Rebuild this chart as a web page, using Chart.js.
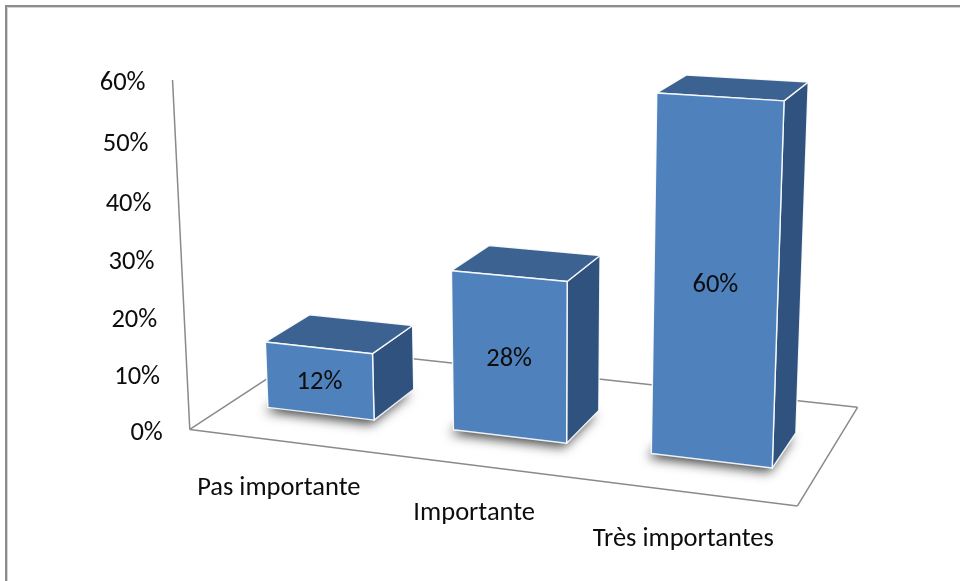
<!DOCTYPE html>
<html>
<head>
<meta charset="utf-8">
<title>Importance</title>
<script src="https://cdn.jsdelivr.net/npm/chart.js@4.4.1/dist/chart.umd.min.js"></script>
<style>
  html, body { margin: 0; padding: 0; background: #ffffff; }
  #wrap { width: 960px; height: 581px; }
</style>
</head>
<body>
<div id="wrap"><canvas id="chart" width="960" height="581"></canvas></div>
<script>
// ---- data ----
const categories = ['Pas importante', 'Importante', 'Très importantes'];
const values = [0.12, 0.28, 0.60];
const tickValues = [0, 0.1, 0.2, 0.3, 0.4, 0.5, 0.6];
const tickLabels = ['0%', '10%', '20%', '30%', '40%', '50%', '60%'];

// ---- 3-D view ----
// Perspective camera: world (X along categories 0..n, Y normalised height 0..1,
// Z depth 0..1 of the floor) -> screen pixels.
const camera = [176.8833, -25.28330, 165.1304, 189.7953,
                9.209326, -353.1774, -36.47265, 429.4192,
                -0.03218503, -0.04653656, 0.1292310];
const barHalfWidth = 0.29;   // in category units
const barFront = 0.30;       // depth range of the columns on the floor
const barBack = 0.66;

const FONT = '26.5px Carlito, Calibri, Lato, "Liberation Sans", sans-serif';
const TEXT_COLOR = '#0d0d0d';
const LINE_COLOR = '#8a8a8a';
const FACE_FRONT = '#4f81bd';
const FACE_TOP = '#3c6291';
const FACE_SIDE = '#30527e';
const EDGE = 'rgba(255,255,255,0.9)';

function project(X, Y, Z) {
  const p = camera;
  const w = p[8] * X + p[9] * Y + p[10] * Z + 1;
  return [(p[0] * X + p[1] * Y + p[2] * Z + p[3]) / w,
          (p[4] * X + p[5] * Y + p[6] * Z + p[7]) / w];
}

function poly(ctx, pts) {
  ctx.beginPath();
  ctx.moveTo(pts[0][0], pts[0][1]);
  for (let i = 1; i < pts.length; i++) ctx.lineTo(pts[i][0], pts[i][1]);
  ctx.closePath();
}

function line(ctx, a, b) {
  ctx.beginPath();
  ctx.moveTo(a[0], a[1]);
  ctx.lineTo(b[0], b[1]);
  ctx.stroke();
}

const perspectiveColumns = {
  id: 'perspectiveColumns',
  afterDatasetsDraw(chart) {
    const ctx = chart.ctx;
    const xs = chart.scales.x;
    const ys = chart.scales.y;
    const n = chart.data.labels.length;

    // value -> normalised height through the value scale
    const heightOf = v => (ys.bottom - ys.getPixelForValue(v)) / (ys.bottom - ys.top);
    // category index -> X through the category scale
    const xOf = i => (xs.getPixelForValue(i) - xs.left) / (xs.right - xs.left) * n;

    ctx.save();

    // outer frame
    ctx.strokeStyle = '#8c8c8c';
    ctx.lineWidth = 2;
    ctx.strokeRect(6, 6, 1000, 1000);
    ctx.strokeStyle = '#d4d4d4';
    ctx.lineWidth = 1;
    ctx.strokeRect(7.5, 7.5, 1000, 1000);

    // floor outline and value axis
    ctx.strokeStyle = LINE_COLOR;
    ctx.lineWidth = 1.5;
    const f00 = project(0, 0, 0), f10 = project(n, 0, 0);
    const f11 = project(n, 0, 1), f01 = project(0, 0, 1);
    line(ctx, f00, f01);
    line(ctx, f01, f11);
    line(ctx, f11, f10);
    line(ctx, f10, f00);
    line(ctx, f00, project(0, heightOf(tickValues[tickValues.length - 1]), 0));

    // value tick labels along the axis
    ctx.font = FONT;
    ctx.fillStyle = TEXT_COLOR;
    ctx.textAlign = 'right';
    ctx.textBaseline = 'alphabetic';
    tickValues.forEach((v, k) => {
      const p = project(0, heightOf(v), 0);
      ctx.fillText(tickLabels[k], p[0] - 27, p[1] + 10.5);
    });

    // columns, back to front
    const meta = chart.getDatasetMeta(0);
    meta.data.forEach((el, i) => {
      const v = chart.data.datasets[0].data[i];
      const c = xOf(i);
      const h = heightOf(v);
      const x0 = c - barHalfWidth, x1 = c + barHalfWidth;
      const FBL = project(x0, 0, barFront), FBR = project(x1, 0, barFront);
      const FTL = project(x0, h, barFront), FTR = project(x1, h, barFront);
      const BTL = project(x0, h, barBack), BTR = project(x1, h, barBack);
      const BBR = project(x1, 0, barBack), BBL = project(x0, 0, barBack);

      // soft shadow on the floor
      ctx.save();
      ctx.shadowColor = 'rgba(0,0,0,0.75)';
      ctx.shadowBlur = 12;
      ctx.shadowOffsetX = -3;
      ctx.shadowOffsetY = 4;
      ctx.fillStyle = FACE_SIDE;
      poly(ctx, [FBL, FBR, BBR, BBL]);
      ctx.fill();
      ctx.restore();

      ctx.lineWidth = 1.4;
      ctx.strokeStyle = EDGE;
      ctx.lineJoin = 'round';

      ctx.fillStyle = FACE_SIDE;
      poly(ctx, [FBR, BBR, BTR, FTR]);
      ctx.fill();
      ctx.stroke();

      ctx.fillStyle = FACE_TOP;
      poly(ctx, [FTL, FTR, BTR, BTL]);
      ctx.fill();
      ctx.stroke();

      ctx.fillStyle = FACE_FRONT;
      poly(ctx, [FBL, FBR, FTR, FTL]);
      ctx.fill();
      ctx.stroke();

      // value label in the middle of the front face
      const mid = project(c, h / 2, barFront);
      ctx.fillStyle = TEXT_COLOR;
      ctx.textAlign = 'center';
      ctx.fillText(Math.round(v * 100) + '%', mid[0], mid[1] + 8.5);
    });

    // category labels under the front edge
    ctx.fillStyle = TEXT_COLOR;
    ctx.textAlign = 'center';
    chart.data.labels.forEach((lab, i) => {
      const p = project(xOf(i), 0, 0);
      ctx.fillText(lab, p[0] - 4, p[1] + 54);
    });

    ctx.restore();
  }
};

new Chart(document.getElementById('chart'), {
  type: 'bar',
  data: {
    labels: categories,
    datasets: [{
      data: values,
      backgroundColor: 'rgba(0,0,0,0)',
      borderWidth: 0
    }]
  },
  options: {
    responsive: false,
    animation: false,
    devicePixelRatio: 1,
    layout: { padding: 0 },
    plugins: { legend: { display: false }, tooltip: { enabled: false } },
    scales: {
      x: { type: 'category', display: false, offset: true },
      y: { type: 'linear', display: false, min: 0, max: 0.6 }
    }
  },
  plugins: [perspectiveColumns]
});
</script>
</body>
</html>
